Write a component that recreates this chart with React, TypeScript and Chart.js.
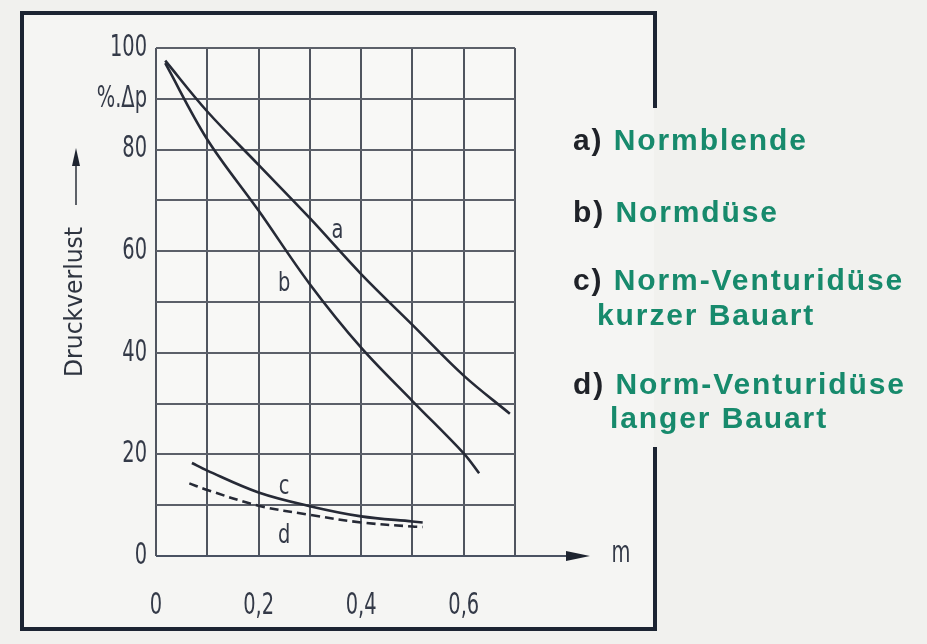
import { useEffect, useRef } from "react";
import { Chart, registerables } from "chart.js";

Chart.register(...registerables);

// ---- data ----
const xA = [0.018, 0.1, 0.2, 0.3, 0.4, 0.5, 0.6, 0.69];
const yA = [97.5, 87.5, 77, 66.5, 55.5, 45.5, 35.5, 28];
const xB = [0.018, 0.1, 0.2, 0.3, 0.4, 0.5, 0.6, 0.63];
const yB = [97, 82, 68, 53.5, 41, 30.5, 20.2, 16.3];
const xC = [0.07, 0.1, 0.2, 0.3, 0.4, 0.5, 0.52];
const yC = [18.3, 16.8, 12.5, 9.8, 7.8, 6.8, 6.6];
const xD = [0.065, 0.1, 0.2, 0.3, 0.4, 0.5, 0.52];
const yD = [14.3, 13, 9.9, 8.1, 6.6, 5.8, 5.7];

const curveNames = ["a", "b", "c", "d"];
const curveLabelX = [0.354, 0.25, 0.25, 0.25];
const curveLabelY = [64, 53.5, 13.5, 4];

const xGrid = [0, 0.1, 0.2, 0.3, 0.4, 0.5, 0.6, 0.7];
const xTickValues = [0, 0.2, 0.4, 0.6];
const xTickText = ["0", "0,2", "0,4", "0,6"];
const yTickValues = [0, 20, 40, 60, 80, 90, 100];
const yTickText = ["0", "20", "40", "60", "80", "%.Δp", "100"];

const legendKeys = ["a)", "b)", "c)", "", "d)", ""];
const legendTexts = [
  "Normblende",
  "Normdüse",
  "Norm-Venturidüse",
  "kurzer Bauart",
  "Norm-Venturidüse",
  "langer Bauart",
];

const NARROW = "'DejaVu Sans Condensed', 'DejaVu Sans', sans-serif";
const INK = "#262a36";
const TEXT = "#343a48";

const pts = (xs: number[], ys: number[]) => xs.map((x, i) => ({ x, y: ys[i] }));

const squeezeText = (
  ctx: CanvasRenderingContext2D,
  txt: string,
  x: number,
  y: number,
  size: number,
  sx: number,
  align: CanvasTextAlign
) => {
  ctx.save();
  ctx.translate(x, y);
  ctx.scale(sx, 1);
  ctx.font = `${size}px ${NARROW}`;
  ctx.textAlign = align;
  ctx.textBaseline = "middle";
  ctx.fillText(txt, 0, 0);
  ctx.restore();
};

const decor = {
  id: "decor",
  beforeDraw(chart: any) {
    const { ctx, chartArea: ca } = chart;
    ctx.save();
    ctx.fillStyle = "#f1f1ee";
    ctx.fillRect(0, 0, chart.width, chart.height);
    ctx.fillStyle = "#f5f5f3";
    ctx.fillRect(24, 15, 630, 612);
    ctx.fillStyle = "#f8f8f6";
    ctx.fillRect(ca.left, ca.top, ca.right - ca.left, ca.bottom - ca.top);
    ctx.restore();
  },
  afterDraw(chart: any) {
    const { ctx, chartArea: ca, scales } = chart;
    const xs = scales.x;
    const ys = scales.y;
    ctx.save();

    // tick labels (narrow DIN-like lettering)
    ctx.fillStyle = TEXT;
    yTickValues.forEach((v, i) => {
      squeezeText(ctx, yTickText[i], ca.left - 9, ys.getPixelForValue(v), 30, 0.72, "right");
    });
    xTickValues.forEach((v, i) => {
      squeezeText(ctx, xTickText[i], xs.getPixelForValue(v), ca.bottom + 50, 30, 0.72, "center");
    });

    // x axis line extension + arrow
    const y0 = ys.getPixelForValue(0);
    ctx.strokeStyle = "#4a5262";
    ctx.lineWidth = 2;
    ctx.beginPath();
    ctx.moveTo(ca.left, y0);
    ctx.lineTo(575, y0);
    ctx.stroke();
    ctx.fillStyle = "#1e2430";
    ctx.beginPath();
    ctx.moveTo(590, y0);
    ctx.lineTo(566, y0 - 5);
    ctx.lineTo(566, y0 + 5);
    ctx.closePath();
    ctx.fill();
    ctx.fillStyle = TEXT;
    squeezeText(ctx, "m", 621, y0 - 2, 30, 0.72, "center");

    // y axis title with arrow
    ctx.save();
    ctx.translate(76, 302);
    ctx.rotate(-Math.PI / 2);
    ctx.font = `24px ${NARROW}`;
    ctx.textAlign = "center";
    ctx.textBaseline = "middle";
    const t = "Druckverlust";
    const w = ctx.measureText(t).width;
    ctx.scale(150 / w, 1);
    ctx.fillStyle = "#2e3440";
    ctx.fillText(t, 0, 0);
    ctx.restore();
    ctx.strokeStyle = "#2a2f3a";
    ctx.lineWidth = 1.5;
    ctx.beginPath();
    ctx.moveTo(76, 205);
    ctx.lineTo(76, 160);
    ctx.stroke();
    ctx.fillStyle = "#1e2430";
    ctx.beginPath();
    ctx.moveTo(76, 148);
    ctx.lineTo(72, 166);
    ctx.lineTo(80, 166);
    ctx.closePath();
    ctx.fill();

    // curve labels
    ctx.fillStyle = TEXT;
    curveNames.forEach((n, i) => {
      squeezeText(
        ctx,
        n,
        xs.getPixelForValue(curveLabelX[i]),
        ys.getPixelForValue(curveLabelY[i]),
        27,
        0.8,
        "center"
      );
    });

    // frame
    ctx.strokeStyle = "#1c2432";
    ctx.lineWidth = 4;
    ctx.lineCap = "butt";
    ctx.beginPath();
    ctx.moveTo(655, 108);
    ctx.lineTo(655, 13);
    ctx.lineTo(22, 13);
    ctx.lineTo(22, 629);
    ctx.lineTo(655, 629);
    ctx.lineTo(655, 447);
    ctx.stroke();
    ctx.restore();
  },
};

export default function App() {
  const ref = useRef<HTMLCanvasElement | null>(null);

  useEffect(() => {
    if (!ref.current) return;
    const line = (xs: number[], ys: number[], dash: number[] = []) => ({
      data: pts(xs, ys),
      borderColor: INK,
      borderWidth: 2.6,
      borderDash: dash,
      pointRadius: 0,
      fill: false,
      tension: 0.35,
    });
    const chart = new Chart(ref.current, {
      type: "line",
      data: {
        datasets: [
          line(xA, yA),
          line(xB, yB),
          line(xC, yC),
          line(xD, yD, [9, 5]),
        ],
      },
      options: {
        animation: false,
        responsive: false,
        maintainAspectRatio: false,
        layout: { padding: { left: 0, top: 48, right: 412, bottom: 0 } },
        plugins: { legend: { display: false }, tooltip: { enabled: false } },
        scales: {
          x: {
            type: "linear",
            min: 0,
            max: 0.7,
            afterFit(s: any) {
              s.height = 88;
            },
            afterBuildTicks(s: any) {
              s.ticks = xGrid.map((v) => ({ value: v }));
            },
            grid: { color: "#50555f", lineWidth: 2, drawTicks: false },
            border: { display: false },
            ticks: { display: false },
          },
          y: {
            type: "linear",
            min: 0,
            max: 100,
            afterFit(s: any) {
              s.width = 156;
            },
            grid: { color: "#5c6069", lineWidth: 2, drawTicks: false },
            border: { display: false },
            ticks: { display: false, stepSize: 10 },
          },
        },
      },
      plugins: [decor],
    });
    return () => chart.destroy();
  }, []);

  const legendTop = [140, 212, 280, 315, 384, 418];
  const legendLeft = [573, 573, 573, 597, 573, 610];

  return (
    <div
      style={{
        position: "fixed",
        left: 0,
        top: 0,
        width: 927,
        height: 644,
        background: "#f1f1ee",
        overflow: "hidden",
      }}
    >
      <canvas ref={ref} width={927} height={644} style={{ width: 927, height: 644, display: "block" }} />
      {legendTexts.map((txt, i) => (
        <div
          key={i}
          style={{
            position: "absolute",
            left: legendLeft[i],
            top: legendTop[i],
            transform: "translateY(-50%)",
            fontFamily: "'Liberation Sans', Arial, sans-serif",
            fontWeight: "bold",
            fontSize: 30,
            letterSpacing: 1.9,
            whiteSpace: "nowrap",
            lineHeight: 1,
          }}
        >
          {legendKeys[i] ? <span style={{ color: "#1f2228" }}>{legendKeys[i]} </span> : null}
          <span style={{ color: "#178a6c" }}>{txt}</span>
        </div>
      ))}
    </div>
  );
}
